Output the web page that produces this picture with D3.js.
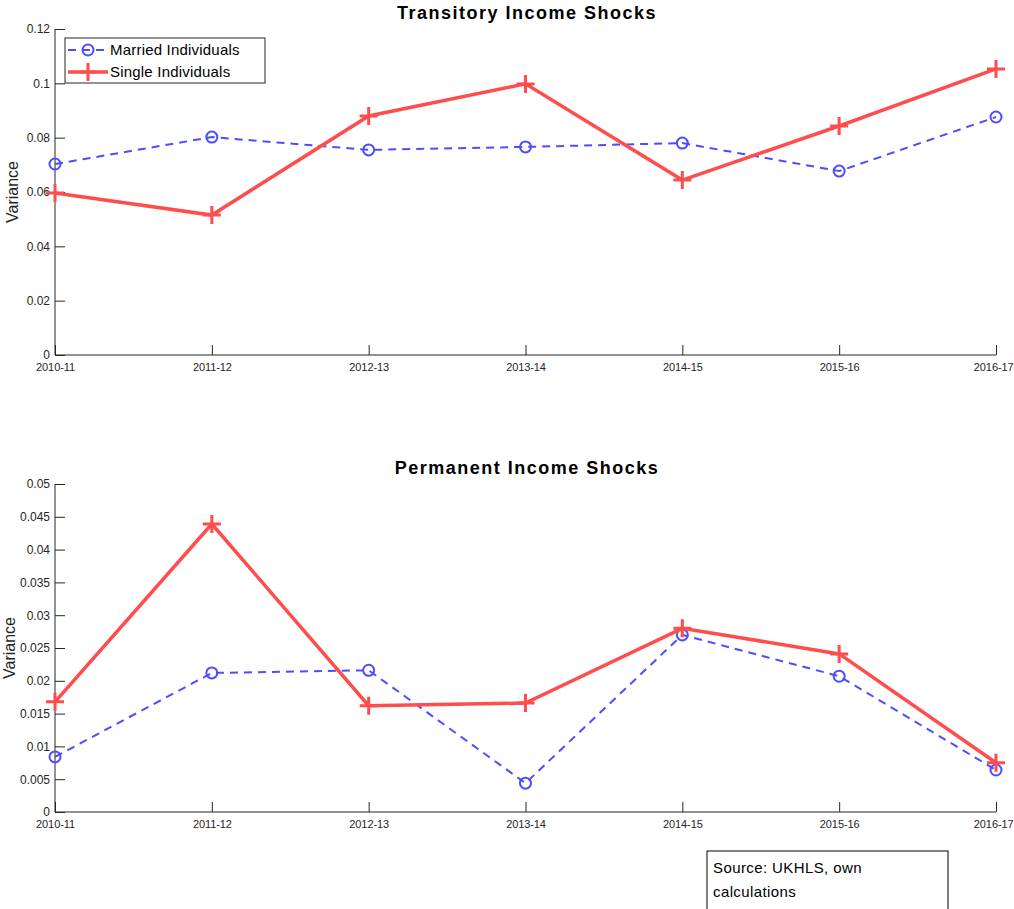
<!DOCTYPE html>
<html>
<head>
<meta charset="utf-8">
<script src="https://cdn.jsdelivr.net/npm/d3@7"></script>
<style>
body { margin: 0; background: #fff; }
svg { font-family: "Liberation Sans", Arial, sans-serif; }
</style>
</head>
<body>
<svg width="1014" height="909"></svg>
<script>
/*
Data
*/

var periods = ['2010-11', '2011-12', '2012-13', '2013-14', '2014-15', '2015-16', '2016-17'];

var transMarried = [0.0703, 0.0802, 0.0755, 0.0766, 0.0780, 0.0677, 0.0876];
var transSingle  = [0.0596, 0.0515, 0.0880, 0.0998, 0.0644, 0.0843, 0.1053];

var permMarried = [0.0084, 0.0212, 0.0216, 0.0044, 0.0270, 0.0207, 0.0064];
var permSingle  = [0.0168, 0.0439, 0.0162, 0.0166, 0.0280, 0.0241, 0.0075];

var transTicks = [0, 0.02, 0.04, 0.06, 0.08, 0.1, 0.12];
var permTicks = [0, 0.005, 0.01, 0.015, 0.02, 0.025, 0.03, 0.035, 0.04, 0.045, 0.05];

const marriedColor = '#4d4dff';
const singleColor = '#ff4d4d';
const axisColor = '#262626';

var svg = d3.select('svg');

/*
One panel: left + bottom axes, two series
*/

function drawPanel(opts){
	var x = d3.scalePoint()
		.domain(periods)
		.range([55, 996]);
	var y = d3.scaleLinear()
		.domain([0, opts.yMax])
		.range([opts.bottom, opts.top]);

	var g = svg.append('g');

	// y axis with ticks pointing inward
	var yAxis = g.append('g')
		.attr('transform', 'translate(55,0)')
		.call(d3.axisRight(y).tickValues(opts.ticks).tickSize(10).tickFormat(function(d){ return d3.format('~g')(d); }));
	yAxis.select('.domain').attr('d', 'M0,' + opts.top + 'V' + opts.bottom).attr('stroke', axisColor);
	yAxis.selectAll('.tick line').attr('stroke', axisColor);
	yAxis.selectAll('.tick text')
		.attr('x', -5)
		.attr('text-anchor', 'end')
		.attr('fill', axisColor)
		.style('font-size', '12px');

	// x axis, ticks inward (upward)
	var xAxis = g.append('g')
		.attr('transform', 'translate(0,' + opts.bottom + ')')
		.call(d3.axisTop(x).tickSize(10));
	xAxis.select('.domain').attr('d', 'M55,0H996').attr('stroke', axisColor);
	xAxis.selectAll('.tick line').attr('stroke', axisColor);
	xAxis.selectAll('.tick text')
		.attr('y', 12)
		.attr('dy', '0.35em')
		.attr('fill', axisColor)
		.style('font-size', '11px')
		.style('letter-spacing', '-0.1px');
	// keep the last label inside the page
	xAxis.selectAll('.tick text').filter(function(d){ return d === periods[periods.length - 1]; })
		.attr('text-anchor', 'end')
		.attr('x', 17);
	g.selectAll('.domain').attr('fill', 'none');

	// y label
	g.append('text')
		.attr('transform', 'translate(' + opts.labelX + ',' + ((opts.top + opts.bottom) / 2) + ') rotate(-90)')
		.attr('text-anchor', 'middle')
		.attr('dy', '0.35em')
		.attr('fill', axisColor)
		.style('font-size', '16px')
		.text('Variance');

	// title
	g.append('text')
		.attr('x', 527)
		.attr('y', opts.titleY)
		.attr('text-anchor', 'middle')
		.attr('font-weight', 'bold')
		.style('font-size', '18px')
		.style('letter-spacing', '1.5px')
		.text(opts.title);

	var line = d3.line()
		.x(function(d, i){ return x(periods[i]); })
		.y(function(d){ return y(d); });

	// married: dashed with circles
	g.append('path')
		.datum(opts.married)
		.attr('d', line)
		.attr('fill', 'none')
		.attr('stroke', marriedColor)
		.attr('stroke-width', 2)
		.attr('stroke-dasharray', '8,6');
	g.selectAll('circle.m')
		.data(opts.married)
		.enter().append('circle')
			.attr('class', 'm')
			.attr('cx', function(d, i){ return x(periods[i]); })
			.attr('cy', function(d){ return y(d); })
			.attr('r', 5.5)
			.attr('fill', 'none')
			.attr('stroke', marriedColor)
			.attr('stroke-width', 2);

	// single: solid with plus markers
	g.append('path')
		.datum(opts.single)
		.attr('d', line)
		.attr('fill', 'none')
		.attr('stroke', singleColor)
		.attr('stroke-width', 3.5);
	g.selectAll('path.s')
		.data(opts.single)
		.enter().append('path')
			.attr('class', 's')
			.attr('d', function(d, i){
				var cx = x(periods[i]), cy = y(d);
				return 'M' + (cx - 9) + ',' + cy + 'H' + (cx + 9) + 'M' + cx + ',' + (cy - 9) + 'V' + (cy + 9);
			})
			.attr('stroke', singleColor)
			.attr('stroke-width', 3);
}

drawPanel({ top: 29, bottom: 355, yMax: 0.12, ticks: transTicks, married: transMarried, single: transSingle,
	title: 'Transitory Income Shocks', titleY: 19, labelX: 12 });
drawPanel({ top: 484, bottom: 812, yMax: 0.05, ticks: permTicks, married: permMarried, single: permSingle,
	title: 'Permanent Income Shocks', titleY: 474, labelX: 9 });

/*
Legend in the top panel
*/

var legend = svg.append('g').attr('transform', 'translate(65,38)');
legend.append('rect')
	.attr('width', 200).attr('height', 45)
	.attr('fill', '#fff').attr('stroke', axisColor).attr('stroke-width', 1);

legend.append('line')
	.attr('x1', 3).attr('x2', 43).attr('y1', 12).attr('y2', 12)
	.attr('stroke', marriedColor).attr('stroke-width', 2).attr('stroke-dasharray', '8,6');
legend.append('circle')
	.attr('cx', 23).attr('cy', 12).attr('r', 5.5)
	.attr('fill', 'none').attr('stroke', marriedColor).attr('stroke-width', 2);
legend.append('text')
	.attr('x', 45).attr('y', 12).attr('dy', '0.35em')
	.style('font-size', '15px').style('letter-spacing', '0.2px').text('Married Individuals');

legend.append('line')
	.attr('x1', 3).attr('x2', 43).attr('y1', 34).attr('y2', 34)
	.attr('stroke', singleColor).attr('stroke-width', 3.5);
legend.append('path')
	.attr('d', 'M14,34H32M23,25V43')
	.attr('stroke', singleColor).attr('stroke-width', 3);
legend.append('text')
	.attr('x', 45).attr('y', 34).attr('dy', '0.35em')
	.style('font-size', '15px').style('letter-spacing', '0.2px').text('Single Individuals');

/*
Source note box
*/

var note = svg.append('g').attr('transform', 'translate(707,851)');
note.append('rect')
	.attr('width', 241).attr('height', 70)
	.attr('fill', '#fff').attr('stroke', '#000').attr('stroke-width', 1);
note.append('text')
	.attr('x', 6).attr('y', 22)
	.style('font-size', '15px').style('letter-spacing', '0.4px').text('Source: UKHLS, own');
note.append('text')
	.attr('x', 6).attr('y', 46)
	.style('font-size', '15px').style('letter-spacing', '0.4px').text('calculations');
</script>
</body>
</html>
